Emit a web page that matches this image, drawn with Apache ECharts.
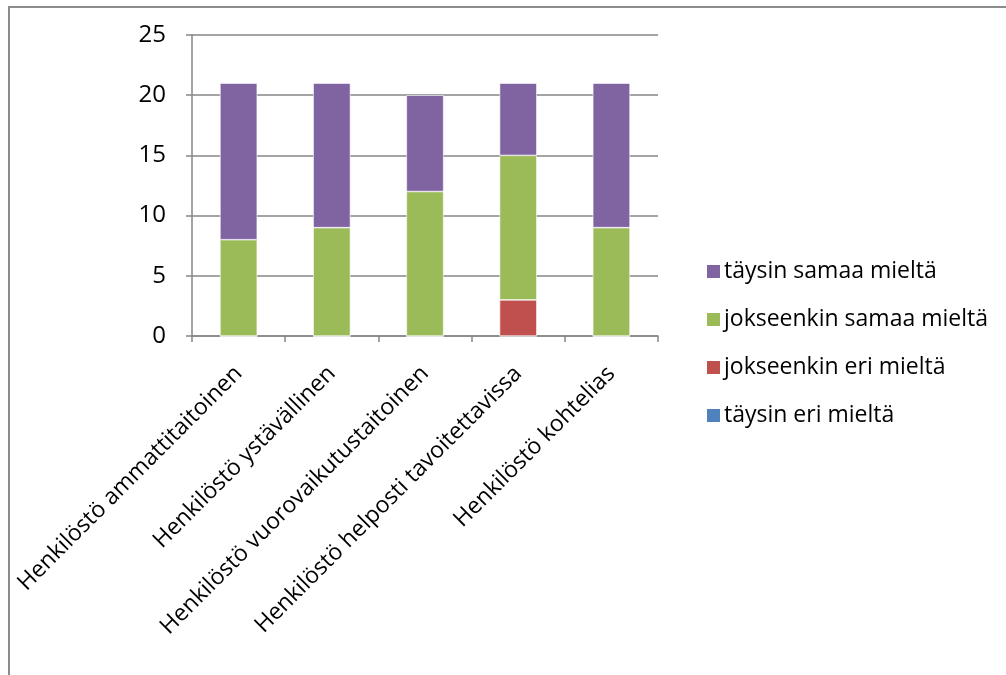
<!DOCTYPE html>
<html>
<head>
<meta charset="utf-8">
<script src="https://cdn.jsdelivr.net/npm/echarts@6/dist/echarts.min.js"></script>
<style>
  html, body { margin: 0; padding: 0; background: #ffffff; }
  #chart { width: 1006px; height: 675px; }
</style>
</head>
<body>
<div id="chart"></div>
<script>
// Survey responses per staff attribute (number of respondents)
const categories = [
  'Henkilöstö ammattitaitoinen',
  'Henkilöstö ystävällinen',
  'Henkilöstö vuorovaikutustaitoinen',
  'Henkilöstö helposti tavoitettavissa',
  'Henkilöstö kohtelias'
];
const taysinEri = [0, 0, 0, 0, 0];
const jokseenkinEri = [0, 0, 0, 3, 0];
const jokseenkinSamaa = [8, 9, 12, 12, 9];
const taysinSamaa = [13, 12, 8, 6, 12];

const yTicks = { min: 0, max: 25, interval: 5 };

const FONT = '"Open Sans", "Liberation Sans", sans-serif';
const GRID_COLOR = '#868686';

const chart = echarts.init(document.getElementById('chart'), null, { renderer: 'canvas' });

function barSeries(name, data, color) {
  return {
    name: name,
    type: 'bar',
    stack: 'total',
    data: data,
    barWidth: '40%',
    itemStyle: { color: color, borderColor: '#ffffff', borderWidth: 0.6 },
    emphasis: { disabled: true }
  };
}

chart.setOption({
  animation: false,
  textStyle: { fontFamily: FONT },
  graphic: [{
    type: 'polyline',
    shape: { points: [[9, 680], [9, 7], [1010, 7]] },
    style: { stroke: '#8c8c8c', lineWidth: 2, fill: null },
    silent: true
  }],
  grid: { left: 192, right: 348, top: 35, bottom: 339, containLabel: false },
  legend: {
    orient: 'vertical',
    left: 700,
    top: 253,
    itemWidth: 15,
    itemHeight: 15,
    itemGap: 21,
    icon: 'rect',
    textStyle: { fontFamily: FONT, fontSize: 23, lineHeight: 27, color: '#000000', padding: [0, 0, 0, -2] },
    data: ['täysin samaa mieltä', 'jokseenkin samaa mieltä', 'jokseenkin eri mieltä', 'täysin eri mieltä']
  },
  xAxis: {
    type: 'category',
    data: categories,
    axisLine: { lineStyle: { color: GRID_COLOR, width: 1.5 } },
    axisTick: { show: true, alignWithLabel: false, length: 6, lineStyle: { color: GRID_COLOR, width: 1.5 } },
    axisLabel: {
      interval: 0,
      rotate: 45,
      margin: 34,
      fontFamily: FONT,
      fontSize: 23,
      color: '#000000'
    }
  },
  yAxis: {
    type: 'value',
    min: yTicks.min,
    max: yTicks.max,
    interval: yTicks.interval,
    axisLine: { show: true, lineStyle: { color: GRID_COLOR, width: 1.5 } },
    axisTick: { show: true, inside: false, length: 6, lineStyle: { color: GRID_COLOR, width: 1.5 } },
    splitLine: { lineStyle: { color: GRID_COLOR, width: 1.5 } },
    axisLabel: { margin: 26, fontFamily: FONT, fontSize: 24, color: '#000000' }
  },
  series: [
    barSeries('täysin eri mieltä', taysinEri, '#4F81BD'),
    barSeries('jokseenkin eri mieltä', jokseenkinEri, '#C0504D'),
    barSeries('jokseenkin samaa mieltä', jokseenkinSamaa, '#9BBB59'),
    barSeries('täysin samaa mieltä', taysinSamaa, '#8064A2')
  ]
});
</script>
</body>
</html>
